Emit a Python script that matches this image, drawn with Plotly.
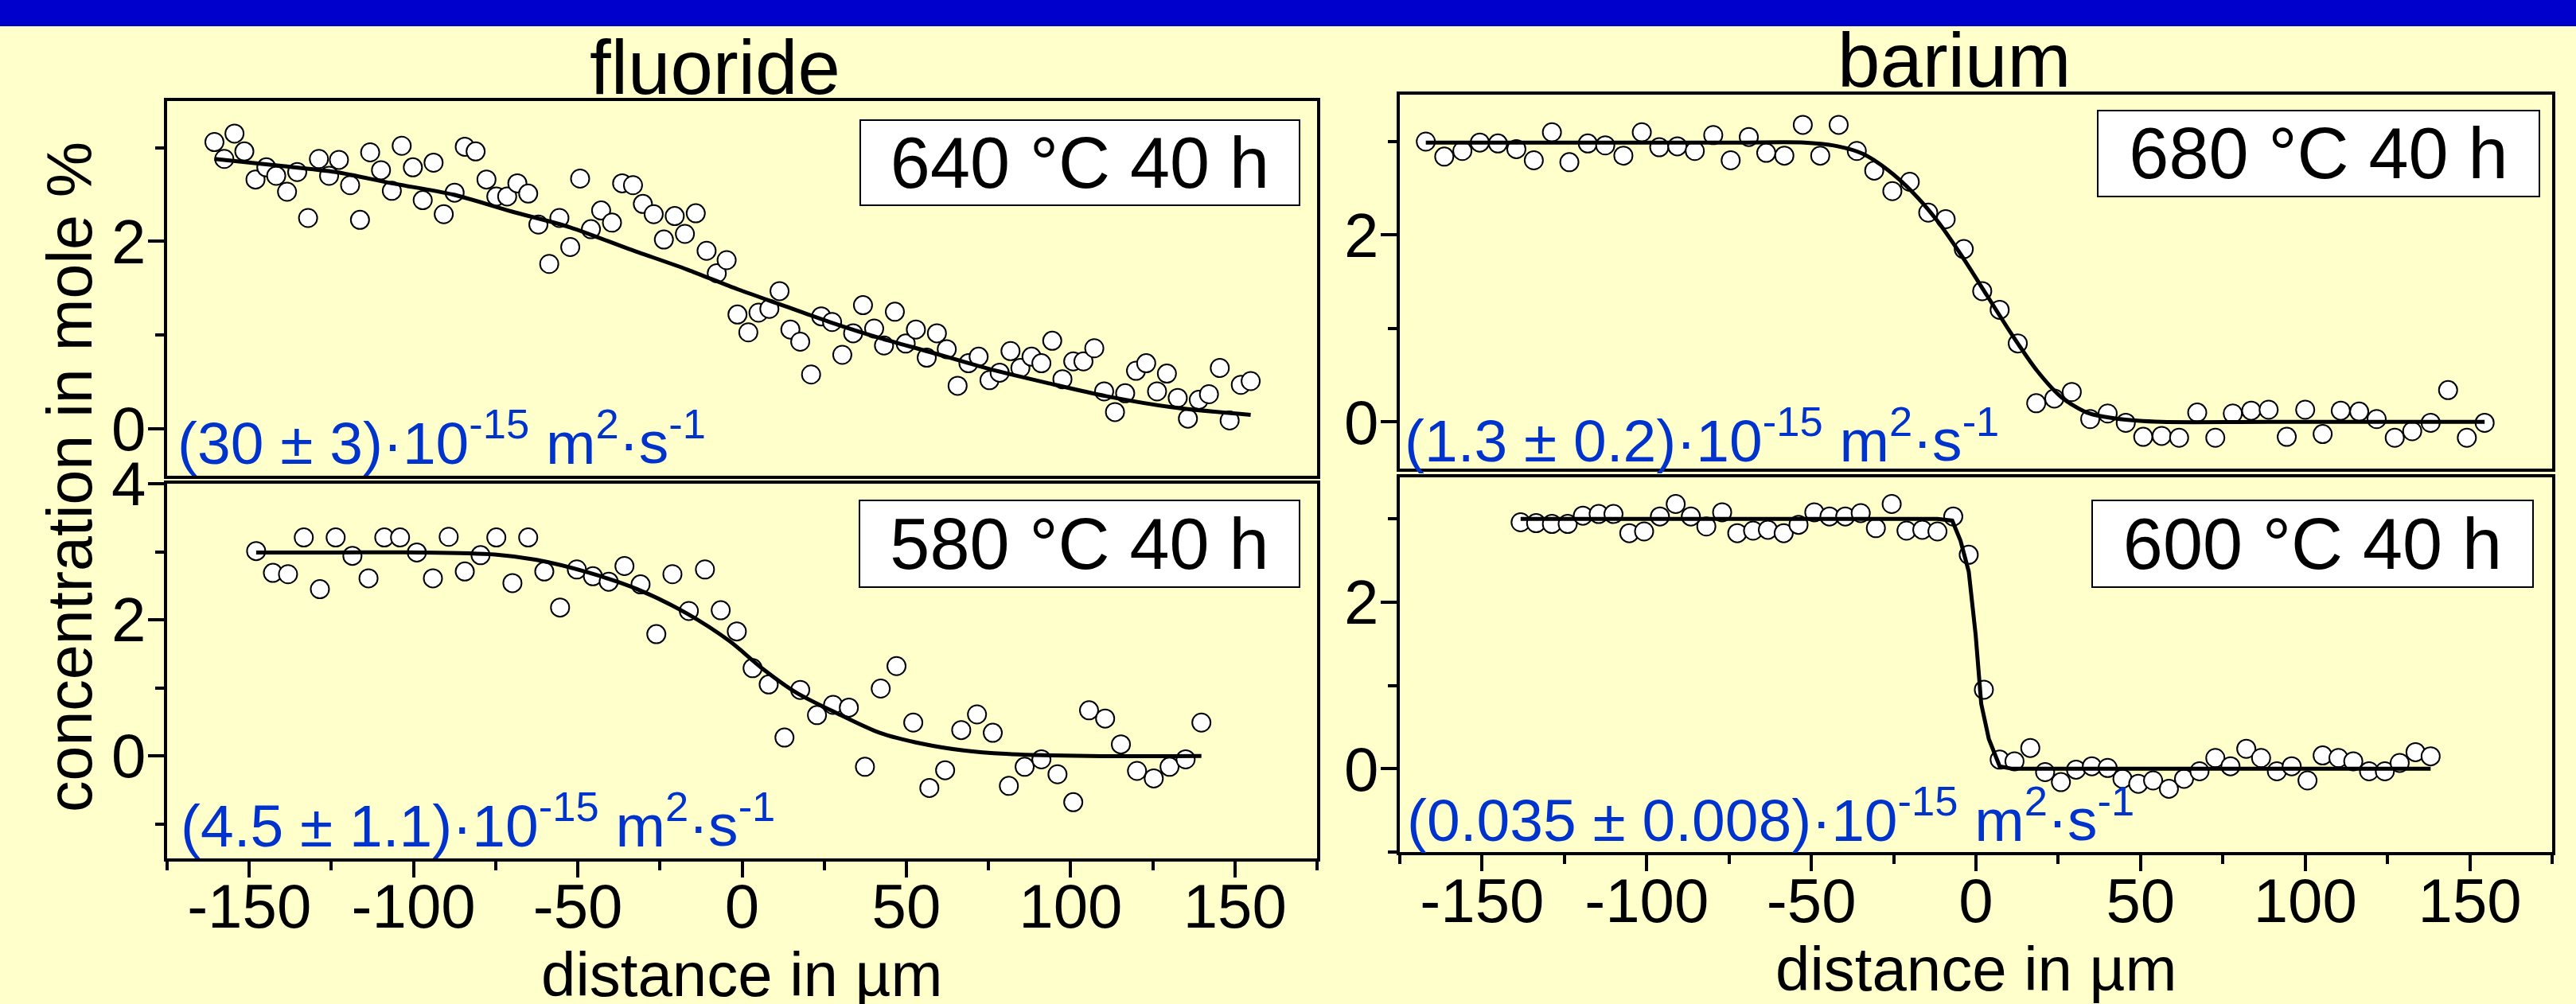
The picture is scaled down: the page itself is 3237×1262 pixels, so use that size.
import plotly.graph_objects as go

W, H = 3237, 1262

# ---------------- data ----------------
# fluoride, 640 C 40 h
fl640_x = [-160.6, -154.5, -157.6, -151.5, -148.1, -144.8, -141.8, -138.5, -135.4, -132.1, -128.8, -125.7, -122.7, -119.3, -116.3, -113.2, -109.9, -106.6, -103.6, -100.2, -97.2, -93.9, -90.8, -87.5, -84.4, -81.1, -77.8, -74.8, -71.5, -68.4, -65.1, -62.0, -58.7, -55.6, -52.3, -49.3, -46.0, -42.9, -39.6, -36.5, -33.2, -30.2, -26.9, -23.8, -20.5, -17.4, -14.1, -10.8, -7.7, -4.7, -1.4, 1.9, 5.0, 8.3, 11.4, 14.7, 17.7, 21.0, 24.1, 27.4, 30.5, 33.8, 36.8, 40.2, 43.2, 46.5, 49.8, 52.9, 56.2, 59.3, 62.3, 65.6, 68.9, 72.0, 75.3, 78.4, 81.7, 84.7, 88.1, 91.1, 94.4, 97.5, 100.8, 103.9, 107.2, 110.2, 113.5, 116.6, 119.9, 123.0, 126.3, 129.3, 132.6, 135.7, 139.0, 142.1, 145.4, 148.4, 151.8, 154.8]
fl640_y = [3.06, 3.15, 2.88, 2.96, 2.66, 2.79, 2.70, 2.53, 2.74, 2.25, 2.88, 2.70, 2.87, 2.60, 2.23, 2.95, 2.76, 2.54, 3.02, 2.79, 2.44, 2.84, 2.29, 2.52, 3.01, 2.96, 2.66, 2.48, 2.48, 2.62, 2.51, 2.18, 1.76, 2.25, 1.94, 2.67, 2.13, 2.33, 2.20, 2.62, 2.60, 2.40, 2.29, 2.02, 2.27, 2.08, 2.30, 1.90, 1.66, 1.80, 1.22, 1.03, 1.24, 1.28, 1.47, 1.06, 0.93, 0.58, 1.20, 1.14, 0.79, 1.02, 1.32, 1.07, 0.89, 1.25, 0.91, 1.06, 0.76, 1.02, 0.85, 0.46, 0.70, 0.77, 0.52, 0.60, 0.83, 0.65, 0.77, 0.70, 0.94, 0.53, 0.72, 0.72, 0.86, 0.40, 0.18, 0.38, 0.62, 0.70, 0.40, 0.59, 0.33, 0.11, 0.31, 0.37, 0.65, 0.09, 0.47, 0.51]
fl640_fit_x = [-160.6, -141.5, -123.7, -106.6, -88.0, -70.2, -52.3, -34.5, -16.7, -1.4, 11.4, 26.7, 41.9, 57.2, 75.1, 92.9, 110.7, 131.1, 154.8]
fl640_fit_y = [2.88, 2.81, 2.74, 2.62, 2.50, 2.32, 2.15, 1.92, 1.70, 1.49, 1.33, 1.14, 0.97, 0.82, 0.64, 0.49, 0.35, 0.23, 0.15]

# fluoride, 580 C 40 h
fl580_x = [-147.9, -142.8, -138.2, -133.4, -128.5, -123.7, -118.6, -113.7, -108.9, -104.1, -99.0, -94.1, -89.3, -84.4, -79.6, -74.8, -69.9, -65.1, -60.2, -55.4, -50.3, -45.4, -40.6, -35.8, -30.9, -26.1, -21.2, -16.2, -11.3, -6.5, -1.6, 3.2, 8.1, 12.9, 17.7, 22.8, 27.7, 32.5, 37.4, 42.2, 47.0, 52.1, 57.0, 61.8, 66.7, 71.5, 76.3, 81.2, 86.0, 91.1, 96.0, 100.8, 105.6, 110.5, 115.3, 120.2, 125.3, 130.1, 135.0, 139.8]
fl580_y = [3.01, 2.69, 2.67, 3.21, 2.45, 3.21, 2.94, 2.61, 3.21, 3.21, 2.99, 2.61, 3.22, 2.71, 2.95, 3.21, 2.54, 3.21, 2.71, 2.18, 2.74, 2.64, 2.56, 2.79, 2.52, 1.79, 2.67, 2.13, 2.74, 2.14, 1.83, 1.29, 1.05, 0.27, 0.97, 0.60, 0.75, 0.71, -0.16, 0.99, 1.32, 0.49, -0.47, -0.21, 0.38, 0.61, 0.34, -0.44, -0.16, -0.05, -0.27, -0.68, 0.67, 0.55, 0.17, -0.22, -0.33, -0.16, -0.05, 0.49]
fl580_fit_x = [-147.9, -123.7, -98.2, -75.3, -62.5, -47.2, -31.9, -16.7, -3.9, 6.3, 16.5, 29.2, 41.9, 54.7, 67.4, 80.2, 105.6, 139.8]
fl580_fit_y = [2.99, 2.99, 2.99, 2.96, 2.88, 2.70, 2.45, 2.09, 1.69, 1.28, 0.93, 0.62, 0.34, 0.18, 0.08, 0.03, 0.0, 0.0]

# barium, 680 C 40 h
ba680_x = [-167.1, -161.5, -156.0, -150.7, -145.2, -139.6, -134.3, -128.8, -123.5, -117.9, -112.6, -107.1, -101.5, -96.2, -90.7, -85.4, -79.8, -74.5, -69.0, -63.7, -58.2, -52.6, -47.3, -41.7, -36.2, -30.9, -25.4, -20.1, -14.5, -9.2, -3.7, 1.9, 7.2, 12.7, 18.3, 23.8, 29.1, 34.7, 40.0, 45.5, 50.8, 56.4, 61.7, 67.2, 72.7, 78.0, 83.6, 88.9, 94.4, 100.0, 105.3, 110.8, 116.4, 121.7, 127.2, 132.5, 138.1, 143.4, 149.1, 154.5]
ba680_y = [3.00, 2.84, 2.90, 2.99, 2.98, 2.92, 2.80, 3.10, 2.78, 2.98, 2.96, 2.85, 3.10, 2.94, 2.95, 2.90, 3.07, 2.80, 3.05, 2.88, 2.85, 3.18, 2.85, 3.18, 2.90, 2.69, 2.47, 2.57, 2.24, 2.17, 1.85, 1.40, 1.20, 0.84, 0.20, 0.25, 0.32, 0.03, 0.09, -0.01, -0.16, -0.15, -0.17, 0.10, -0.17, 0.09, 0.12, 0.13, -0.16, 0.13, -0.13, 0.12, 0.11, 0.03, -0.17, -0.10, -0.01, 0.34, -0.17, -0.01]
ba680_fit_x = [-167.1, -112.6, -72.3, -52.1, -42.0, -34.4, -26.9, -19.3, -11.7, -4.2, 3.4, 11.0, 18.5, 26.1, 33.7, 43.7, 56.4, 89.1, 154.5]
ba680_fit_y = [2.99, 2.99, 2.99, 2.99, 2.95, 2.87, 2.70, 2.46, 2.15, 1.77, 1.35, 0.93, 0.55, 0.26, 0.10, 0.03, 0.0, 0.0, 0.0]

# barium, 600 C 40 h
ba600_x = [-138.3, -133.6, -128.8, -124.0, -119.4, -114.6, -110.1, -105.3, -100.8, -96.0, -91.2, -86.6, -81.9, -77.1, -72.5, -67.7, -63.2, -58.4, -53.9, -49.1, -44.5, -39.7, -35.0, -30.4, -25.6, -21.1, -16.3, -11.7, -6.9, -2.2, 2.4, 7.2, 11.7, 16.5, 21.0, 25.8, 30.4, 35.2, 40.0, 44.5, 49.3, 53.8, 58.6, 63.2, 67.9, 72.7, 77.3, 82.1, 86.6, 91.4, 95.9, 100.7, 105.3, 110.1, 114.6, 119.4, 124.2, 128.7, 133.5, 138.1]
ba600_y = [2.96, 2.95, 2.94, 2.94, 3.04, 3.06, 3.06, 2.83, 2.85, 3.03, 3.18, 3.03, 2.91, 3.08, 2.83, 2.86, 2.87, 2.83, 2.93, 3.08, 3.03, 3.03, 3.07, 2.89, 3.18, 2.86, 2.87, 2.85, 3.03, 2.57, 0.95, 0.11, 0.09, 0.25, -0.04, -0.16, -0.01, 0.03, 0.01, -0.12, -0.18, -0.14, -0.24, -0.12, -0.03, 0.13, 0.03, 0.24, 0.13, -0.03, 0.03, -0.14, 0.16, 0.13, 0.09, -0.03, -0.03, 0.07, 0.20, 0.15]
ba600_fit_x = [-138.3, -87.4, -37.0, -11.7, -7.2, -4.7, -2.2, -0.1, 1.6, 3.9, 7.2, 11.0, 38.7, 138.1]
ba600_fit_y = [3.00, 3.00, 3.00, 3.00, 2.98, 2.74, 2.37, 1.61, 0.78, 0.36, 0.03, 0.0, 0.0, 0.0]

# tick labels
x_tickvals = [-150, -100, -50, 0, 50, 100, 150]
x_ticktext = ["-150", "-100", "-50", "0", "50", "100", "150"]
y_tickvals = [0, 2, 4]
y_ticktext = ["0", "2", "4"]

titles = ["fluoride", "barium"]
conditions = ["640 °C 40 h", "680 °C 40 h", "580 °C 40 h", "600 °C 40 h"]
diffusivities = [
    "(30 ± 3)·10<sup>-15</sup> m<sup>2</sup>·s<sup>-1</sup>",
    "(1.3 ± 0.2)·10<sup>-15</sup> m<sup>2</sup>·s<sup>-1</sup>",
    "(4.5 ± 1.1)·10<sup>-15</sup> m<sup>2</sup>·s<sup>-1</sup>",
    "(0.035 ± 0.008)·10<sup>-15</sup> m<sup>2</sup>·s<sup>-1</sup>",
]
x_title = "distance in µm"
y_title = "concentration in mole %"

# ---------------- layout helpers (pixel -> paper) ----------------
def px(x):
    return x / W

def py(y):
    return 1 - y / H

FONT = "Liberation Sans, Arial, Helvetica, sans-serif"
BG = "#FFFFCC"
BLUE_TXT = "#0033CC"

fig = go.Figure()

panels = [
    ("x", "y", fl640_x, fl640_y, fl640_fit_x, fl640_fit_y, "spline"),
    ("x2", "y2", ba680_x, ba680_y, ba680_fit_x, ba680_fit_y, "spline"),
    ("x3", "y3", fl580_x, fl580_y, fl580_fit_x, fl580_fit_y, "spline"),
    ("x4", "y4", ba600_x, ba600_y, ba600_fit_x, ba600_fit_y, "linear"),
]
for xa, ya, dx, dy, fx, fy, shape in panels:
    fig.add_trace(go.Scatter(
        x=dx, y=dy, xaxis=xa, yaxis=ya, mode="markers",
        marker=dict(symbol="circle", size=23, color="white",
                    line=dict(color="black", width=2)),
        showlegend=False, hoverinfo="skip"))
    fig.add_trace(go.Scatter(
        x=fx, y=fy, xaxis=xa, yaxis=ya, mode="lines",
        line=dict(color="black", width=5, shape=shape, smoothing=0.8),
        showlegend=False, hoverinfo="skip"))

tickfont = dict(family=FONT, size=78, color="black")

def xaxis(domain, labels):
    return dict(
        domain=domain, range=[-175, 175], automargin=False,
        tickmode="array", tickvals=x_tickvals, ticktext=x_ticktext,
        showline=True, linewidth=4, linecolor="black", mirror=True,
        showgrid=False, zeroline=False,
        ticks="outside" if labels else "", ticklen=20, tickwidth=4, tickcolor="black",
        showticklabels=labels, tickfont=tickfont, ticklabelstandoff=-30,
        minor=dict(dtick=25, tick0=0, ticks="outside" if labels else "",
                   ticklen=11, tickwidth=4, tickcolor="black", showgrid=False),
    )

def yaxis(domain, rng, anchor):
    return dict(
        domain=domain, range=rng, anchor=anchor, automargin=False,
        tickmode="array", tickvals=y_tickvals, ticktext=y_ticktext,
        showline=True, linewidth=4, linecolor="black", mirror=True,
        showgrid=False, zeroline=False,
        ticks="outside", ticklen=20, tickwidth=4, tickcolor="black",
        tickfont=tickfont, ticklabelstandoff=-13,
        minor=dict(dtick=1, tick0=0, ticks="outside",
                   ticklen=11, tickwidth=4, tickcolor="black", showgrid=False),
    )

LX = [px(210), px(1655)]
RX = [px(1759), px(3207)]

fig.update_layout(
    template="none",
    width=W, height=H, autosize=False,
    margin=dict(l=0, r=0, t=0, b=0, pad=0, autoexpand=False),
    paper_bgcolor=BG, plot_bgcolor=BG,
    font=dict(family=FONT, color="black"),
    showlegend=False,
    xaxis=dict(xaxis(LX, False), anchor="y"),
    yaxis=yaxis([py(598), py(126.7)], [-0.5, 3.5], "x"),
    xaxis2=dict(xaxis(RX, False), anchor="y2"),
    yaxis2=yaxis([py(589), py(119.3)], [-0.5, 3.5], "x2"),
    xaxis3=dict(xaxis(LX, True), anchor="y3"),
    yaxis3=yaxis([py(1078.5), py(608)], [-1.5, 4.0], "x3"),
    xaxis4=dict(xaxis(RX, True), anchor="y4"),
    yaxis4=yaxis([py(1071), py(600)], [-1.0, 3.5], "x4"),
)

shapes = [dict(type="rect", xref="paper", yref="paper", x0=0, x1=1,
               y0=py(33), y1=1, fillcolor="#0000CC", line=dict(width=0), layer="above")]
fig.update_layout(shapes=shapes)

ann = []
ann.append(dict(text=titles[0], x=px(898), y=py(84), xref="paper", yref="paper",
                xanchor="center", yanchor="middle", showarrow=False,
                font=dict(family=FONT, size=96, color="black")))
ann.append(dict(text=titles[1], x=px(2455), y=py(76), xref="paper", yref="paper",
                xanchor="center", yanchor="middle", showarrow=False,
                font=dict(family=FONT, size=96, color="black")))
ann.append(dict(text=x_title, x=px(932), y=py(1225), xref="paper", yref="paper",
                xanchor="center", yanchor="middle", showarrow=False,
                font=dict(family=FONT, size=78, color="black")))
ann.append(dict(text=x_title, x=px(2483), y=py(1218), xref="paper", yref="paper",
                xanchor="center", yanchor="middle", showarrow=False,
                font=dict(family=FONT, size=78, color="black")))
ann.append(dict(text=y_title, x=px(87), y=py(600), xref="paper", yref="paper",
                xanchor="center", yanchor="middle", showarrow=False, textangle=-90,
                font=dict(family=FONT, size=79, color="black")))
boxes = [(1080, 150, 1634, 259), (2635, 138, 3192, 248),
         (1079, 628, 1634, 739), (2628, 628, 3184, 739)]
for txt, (l, t, r, b) in zip(conditions, boxes):
    ann.append(dict(text=txt, x=px(l), y=py(t), xref="paper", yref="paper",
                    xanchor="left", yanchor="top", showarrow=False,
                    width=r - l - 4, height=b - t - 4, align="center", valign="middle",
                    bgcolor="white", bordercolor="black", borderwidth=2, borderpad=0,
                    font=dict(family=FONT, size=90, color="black")))
dpos = [(221, 579), (1763, 576), (225, 1060), (1766, 1053)]
for txt, (l, base) in zip(diffusivities, dpos):
    ann.append(dict(text=txt, x=px(l), y=py(base - 28), xref="paper", yref="paper",
                    xanchor="left", yanchor="middle", showarrow=False,
                    font=dict(family=FONT, size=75, color=BLUE_TXT)))
fig.update_layout(annotations=ann)

post = ("document.documentElement.style.margin='0';"
        "document.body.style.margin='0';document.body.style.padding='0';"
        "document.body.style.overflow='hidden';"
        "var d=document.getElementById('{plot_id}');"
        "d.style.position='absolute';d.style.top='0px';d.style.left='0px';")
fig.write_html("out.html", post_script=post, config={"displayModeBar": False})
